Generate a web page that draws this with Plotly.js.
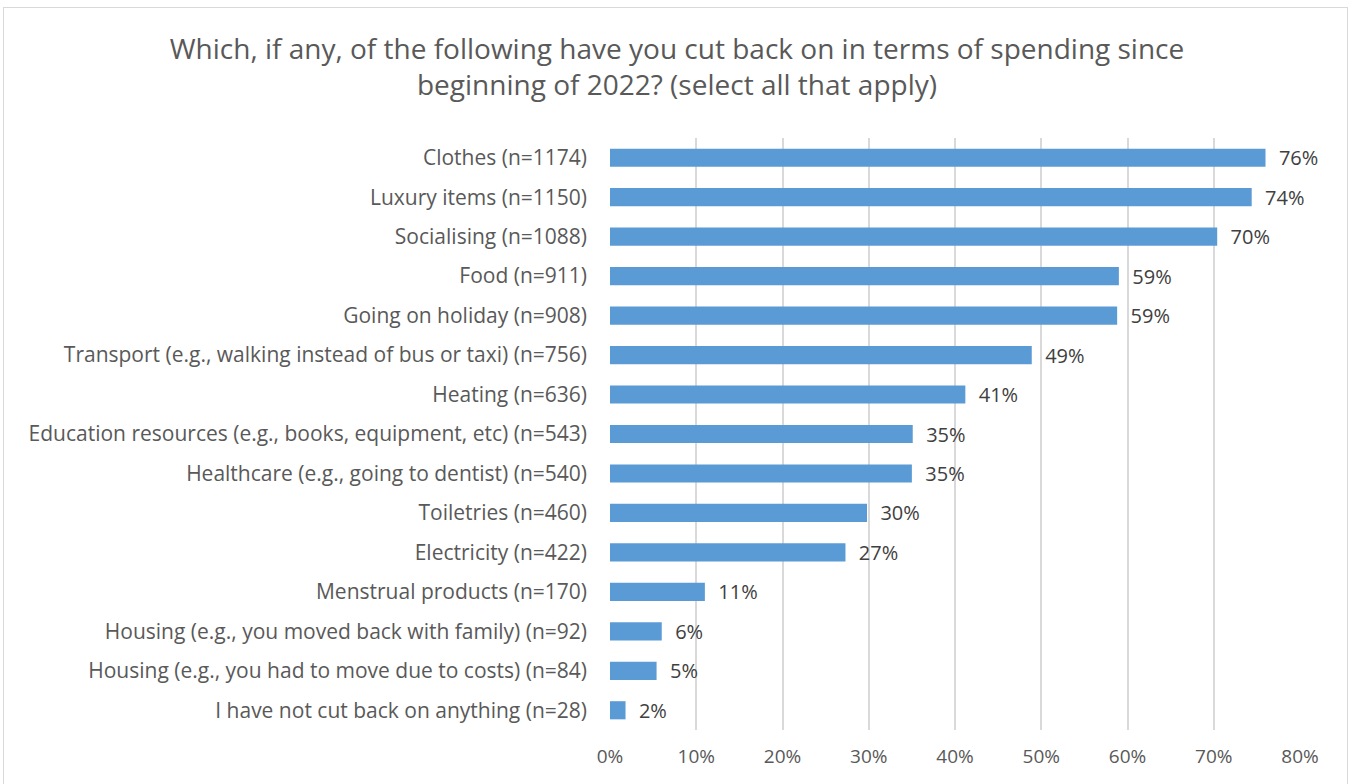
<!DOCTYPE html>
<html>
<head>
<meta charset="utf-8">
<script src="https://cdn.plot.ly/plotly-3.0.1.min.js"></script>
<style>
html,body{margin:0;padding:0;background:#fff;overflow:hidden;}
#frame{position:absolute;left:3px;top:7px;width:1345px;height:800px;border:1px solid #d9d9d9;box-sizing:border-box;}
#chart{position:absolute;left:0;top:0;width:1354px;height:784px;}
</style>
</head>
<body>
<div id="frame"></div>
<div id="chart"></div>
<script>
const categories = [
  "Clothes (n=1174)",
  "Luxury items (n=1150)",
  "Socialising (n=1088)",
  "Food (n=911)",
  "Going on holiday (n=908)",
  "Transport (e.g., walking instead of bus or taxi) (n=756)",
  "Heating (n=636)",
  "Education resources (e.g., books, equipment, etc) (n=543)",
  "Healthcare (e.g., going to dentist) (n=540)",
  "Toiletries (n=460)",
  "Electricity (n=422)",
  "Menstrual products (n=170)",
  "Housing (e.g., you moved back with family) (n=92)",
  "Housing (e.g., you had to move due to costs) (n=84)",
  "I have not cut back on anything (n=28)"
];
const values = [76.0, 74.4, 70.4, 59.0, 58.8, 48.9, 41.2, 35.1, 35.0, 29.8, 27.3, 11.0, 6.0, 5.4, 1.8];
const valueLabels = ["76%","74%","70%","59%","59%","49%","41%","35%","35%","30%","27%","11%","6%","5%","2%"];
const xTickVals = [0,10,20,30,40,50,60,70,80];
const xTickText = ["0%","10%","20%","30%","40%","50%","60%","70%","80%"];

const FONT = "'Open Sans', Lato, sans-serif";

const trace = {
  type: "bar",
  orientation: "h",
  y: categories,
  x: values,
  text: valueLabels.map(t => "  " + t),
  textposition: "outside",
  constraintext: "none",
  cliponaxis: false,
  textfont: {family: FONT, size: 20, color: "#404040"},
  marker: {color: "#5b9bd5"},
  hoverinfo: "none"
};

const layout = {
  width: 1354,
  height: 784,
  paper_bgcolor: "rgba(0,0,0,0)",
  plot_bgcolor: "rgba(0,0,0,0)",
  margin: {l: 610, r: 54, t: 138, b: 54},
  bargap: 0.54,
  showlegend: false,
  title: {
    text: "Which, if any, of the following have you cut back on in terms of spending since<br>beginning of 2022? (select all that apply)",
    font: {family: FONT, size: 28, color: "#595959"},
    x: 0.5, xanchor: "center",
    y: 0.925, yanchor: "middle"
  },
  xaxis: {
    range: [0, 80],
    tickvals: xTickVals,
    ticktext: xTickText,
    showgrid: true,
    gridcolor: "#d9d9d9",
    gridwidth: 2,
    zeroline: false,
    showline: false,
    ticks: "",
    ticklabelstandoff: 13,
    tickfont: {family: FONT, size: 19, color: "#595959"},
    fixedrange: true
  },
  yaxis: {
    autorange: "reversed",
    type: "category",
    showgrid: false,
    zeroline: false,
    showline: false,
    ticks: "",
    ticklabelstandoff: 22,
    tickfont: {family: FONT, size: 21, color: "#595959"},
    fixedrange: true
  }
};

Plotly.newPlot("chart", [trace], layout, {displayModeBar: false, staticPlot: true});
</script>
</body>
</html>
